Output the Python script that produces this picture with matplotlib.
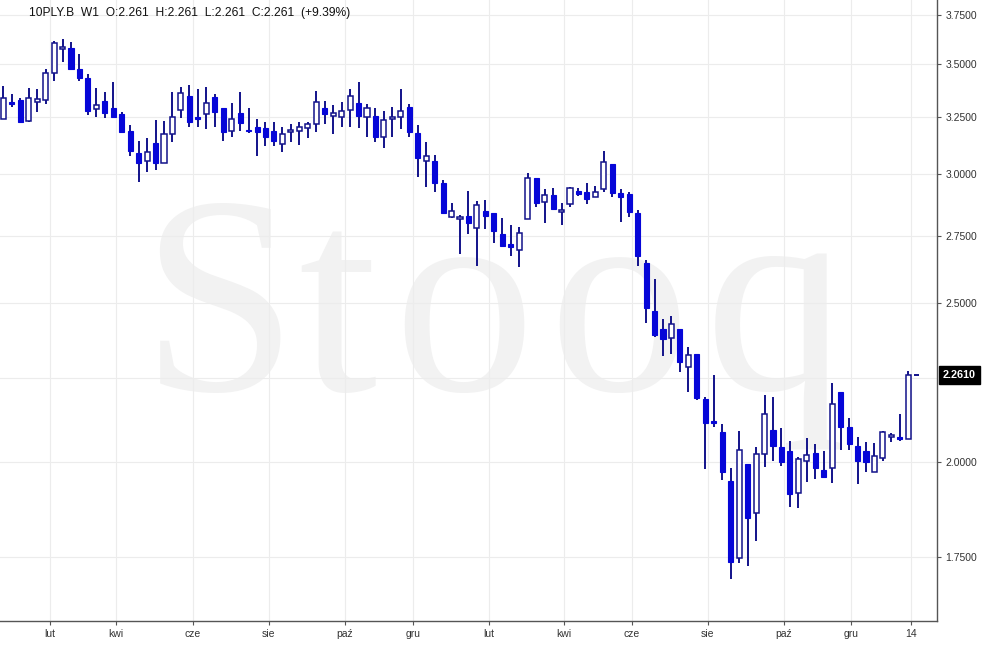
import matplotlib
matplotlib.use("Agg")
import matplotlib.pyplot as plt
import matplotlib.ticker as mticker
from matplotlib.transforms import blended_transform_factory

# ---------------- data ----------------
symbol = "10PLY.B"
interval = "W1"
change_pct = 9.39
last_price = 2.261

opens = [3.240, 3.318, 3.328, 3.232, 3.320, 3.328, 3.455, 3.574, 3.579, 3.474,
         3.431, 3.287, 3.323, 3.289, 3.261, 3.186, 3.087, 3.055, 3.131, 3.044,
         3.171, 3.281, 3.346, 3.248, 3.261, 3.340, 3.289, 3.187, 3.266, 3.190,
         3.202, 3.198, 3.186, 3.128, 3.180, 3.187, 3.198, 3.217, 3.289, 3.255,
         3.248, 3.281, 3.312, 3.248, 3.254, 3.160, 3.239, 3.250, 3.294, 3.175,
         3.054, 3.054, 2.962, 2.824, 2.814, 2.827, 2.778, 2.847, 2.838, 2.756,
         2.718, 2.695, 2.814, 2.981, 2.884, 2.912, 2.842, 2.874, 2.929, 2.923,
         2.902, 2.935, 3.041, 2.919, 2.916, 2.838, 2.647, 2.474, 2.412, 2.380,
         2.412, 2.287, 2.328, 2.186, 2.119, 2.086, 1.948, 1.747, 1.994, 1.861,
         2.022, 2.092, 2.042, 2.031, 1.914, 2.004, 2.025, 1.978, 1.983, 2.206,
         2.100, 2.046, 2.031, 1.973, 2.012, 2.071, 2.073, 2.067, 2.261]
highs = [3.394, 3.356, 3.337, 3.383, 3.378, 3.476, 3.615, 3.624, 3.609, 3.550,
         3.450, 3.383, 3.367, 3.414, 3.273, 3.213, 3.141, 3.153, 3.235, 3.231,
         3.367, 3.390, 3.399, 3.378, 3.388, 3.356, 3.289, 3.312, 3.367, 3.289,
         3.239, 3.228, 3.228, 3.205, 3.217, 3.228, 3.228, 3.371, 3.324, 3.304,
         3.317, 3.380, 3.414, 3.308, 3.289, 3.278, 3.294, 3.380, 3.308, 3.213,
         3.137, 3.080, 2.974, 2.880, 2.831, 2.928, 2.887, 2.891, 2.838, 2.818,
         2.791, 2.782, 3.004, 2.981, 2.936, 2.939, 2.878, 2.946, 2.939, 2.960,
         2.949, 3.097, 3.041, 2.936, 2.925, 2.851, 2.657, 2.586, 2.445, 2.457,
         2.412, 2.352, 2.328, 2.193, 2.261, 2.109, 1.984, 2.090, 1.994, 2.042,
         2.198, 2.191, 2.097, 2.060, 2.015, 2.070, 2.052, 2.030, 2.236, 2.206,
         2.127, 2.071, 2.058, 2.054, 2.089, 2.084, 2.139, 2.274, 2.261]
lows = [3.238, 3.294, 3.224, 3.228, 3.271, 3.308, 3.419, 3.509, 3.474, 3.419,
        3.258, 3.248, 3.243, 3.250, 3.183, 3.077, 2.967, 3.009, 3.016, 3.044,
        3.136, 3.243, 3.202, 3.202, 3.193, 3.202, 3.143, 3.160, 3.187, 3.175,
        3.077, 3.121, 3.121, 3.094, 3.138, 3.124, 3.153, 3.180, 3.217, 3.172,
        3.202, 3.202, 3.198, 3.160, 3.136, 3.109, 3.160, 3.195, 3.158, 2.985,
        2.943, 2.925, 2.838, 2.818, 2.680, 2.756, 2.635, 2.774, 2.723, 2.711,
        2.673, 2.632, 2.814, 2.864, 2.800, 2.854, 2.791, 2.864, 2.909, 2.875,
        2.902, 2.925, 2.905, 2.804, 2.822, 2.636, 2.431, 2.386, 2.323, 2.327,
        2.269, 2.208, 2.182, 1.980, 2.100, 1.950, 1.696, 1.735, 1.727, 1.791,
        1.985, 2.004, 1.990, 1.878, 1.874, 1.944, 1.952, 1.959, 1.943, 2.034,
        2.034, 1.939, 1.973, 1.973, 2.003, 2.057, 2.061, 2.065, 2.261]
closes = [3.336, 3.308, 3.225, 3.336, 3.331, 3.455, 3.604, 3.584, 3.474, 3.434,
          3.278, 3.303, 3.266, 3.250, 3.183, 3.099, 3.047, 3.092, 3.044, 3.171,
          3.248, 3.359, 3.225, 3.239, 3.312, 3.273, 3.180, 3.239, 3.220, 3.186,
          3.183, 3.160, 3.143, 3.171, 3.190, 3.202, 3.217, 3.317, 3.261, 3.266,
          3.277, 3.346, 3.255, 3.289, 3.158, 3.235, 3.248, 3.278, 3.180, 3.066,
          3.076, 2.960, 2.838, 2.847, 2.822, 2.798, 2.870, 2.828, 2.769, 2.711,
          2.705, 2.759, 2.981, 2.881, 2.912, 2.854, 2.851, 2.939, 2.914, 2.895,
          2.923, 3.049, 2.919, 2.905, 2.844, 2.673, 2.485, 2.391, 2.378, 2.428,
          2.303, 2.325, 2.190, 2.112, 2.112, 1.972, 1.737, 2.034, 1.848, 2.022,
          2.139, 2.047, 2.001, 1.911, 2.009, 2.020, 1.984, 1.959, 2.170, 2.102,
          2.051, 2.004, 1.999, 2.018, 2.086, 2.078, 2.067, 2.261, 2.261]

month_labels = ["lut", "kwi", "cze", "sie", "paź", "gru",
                "lut", "kwi", "cze", "sie", "paź", "gru", "14"]
month_pos = [5.47, 13.33, 22.43, 31.4, 40.4, 48.4,
             57.4, 66.3, 74.3, 83.3, 92.3, 100.2, 107.3]

y_tick_values = [1.75, 2.0, 2.5, 2.75, 3.0, 3.25, 3.5, 3.75]
grid_levels = [1.75, 2.0, 2.25, 2.5, 2.75, 3.0, 3.25, 3.5, 3.75]

watermark_letters = ["S", "t", "o", "o", "q"]
watermark_x = [0.150, 0.318, 0.420, 0.585, 0.752]   # axes fraction

# ---------------- style ----------------
UP_EDGE = "#12128a"
DOWN_FACE = "#0606d8"
WICK = "#12128a"
GRID = "#ececec"
SPINE = "#555555"
TXT = "#333333"
BODY_W = 0.6

fig = plt.figure(figsize=(9.99, 6.5), dpi=100)
ax = fig.add_axes([0.0, 0.0446, 0.938, 0.9554])
ax.set_yscale("log")
ax.set_ylim(1.5995, 3.830)
ax.set_xlim(-0.39, 110.4)

# watermark
for letter, xw in zip(watermark_letters, watermark_x):
    ax.text(xw, 0.372, letter, transform=ax.transAxes, fontsize=203,
            family="Liberation Serif", color="#f2f2f2", ha="left",
            va="baseline", zorder=0)

# grid
for g in grid_levels:
    ax.axhline(g, color=GRID, lw=0.8, zorder=1)
for p in month_pos:
    ax.axvline(p, color=GRID, lw=0.8, zorder=1)

# candles
for i, (o, h, l, c) in enumerate(zip(opens, highs, lows, closes)):
    ax.vlines(i, l, h, color=WICK, lw=1.4, zorder=2)
    lo, hi = min(o, c), max(o, c)
    if hi - lo < 1e-9:
        ax.hlines(o, i - BODY_W / 2, i + BODY_W / 2,
                  color=UP_EDGE if c >= o else DOWN_FACE, lw=1.4, zorder=3)
        continue
    if c >= o:
        ax.bar(i, hi - lo, bottom=lo, width=BODY_W, facecolor="white",
               edgecolor=UP_EDGE, linewidth=1.1, zorder=3)
    else:
        ax.bar(i, hi - lo, bottom=lo, width=BODY_W, facecolor=DOWN_FACE,
               edgecolor=DOWN_FACE, linewidth=0.8, zorder=3)

# axes styling
for s in ["left", "top"]:
    ax.spines[s].set_visible(False)
for s in ["right", "bottom"]:
    ax.spines[s].set_color(SPINE)
    ax.spines[s].set_linewidth(1.0)

ax.yaxis.tick_right()
ax.yaxis.set_major_locator(mticker.FixedLocator(y_tick_values))
ax.yaxis.set_minor_locator(mticker.NullLocator())
ax.yaxis.set_major_formatter(mticker.FuncFormatter(lambda v, p: f"{v:.4f}"))
ax.tick_params(axis="y", which="major", direction="out", length=3,
               color=SPINE, labelsize=7.5, labelcolor=TXT, pad=3)
ax.set_xticks(month_pos)
ax.set_xticklabels(month_labels)
ax.tick_params(axis="x", direction="out", length=3, color=SPINE,
               labelsize=7.5, labelcolor=TXT, pad=3)
for t in ax.get_xticklabels() + ax.get_yticklabels():
    t.set_family("Liberation Sans")

# last price box
trans = blended_transform_factory(ax.transAxes, ax.transData)
ax.text(1.006, last_price, f"{last_price:.4f}", transform=trans, color="white",
        fontsize=7.8, fontweight="bold", family="Liberation Sans",
        va="center", ha="left", clip_on=False, zorder=5,
        bbox=dict(boxstyle="square,pad=0.38", fc="black", ec="black"))

# header
header = (f"{symbol}  {interval}  O:{opens[-1]:.3f}  H:{highs[-1]:.3f}  "
          f"L:{lows[-1]:.3f}  C:{closes[-1]:.3f}  (+{change_pct:.2f}%)")
fig.text(29 / 999, 1 - 13.3 / 650, header, fontsize=8.65, family="Liberation Sans",
         color="#111111", va="center", ha="left")

fig.savefig("out.png", dpi=100)
